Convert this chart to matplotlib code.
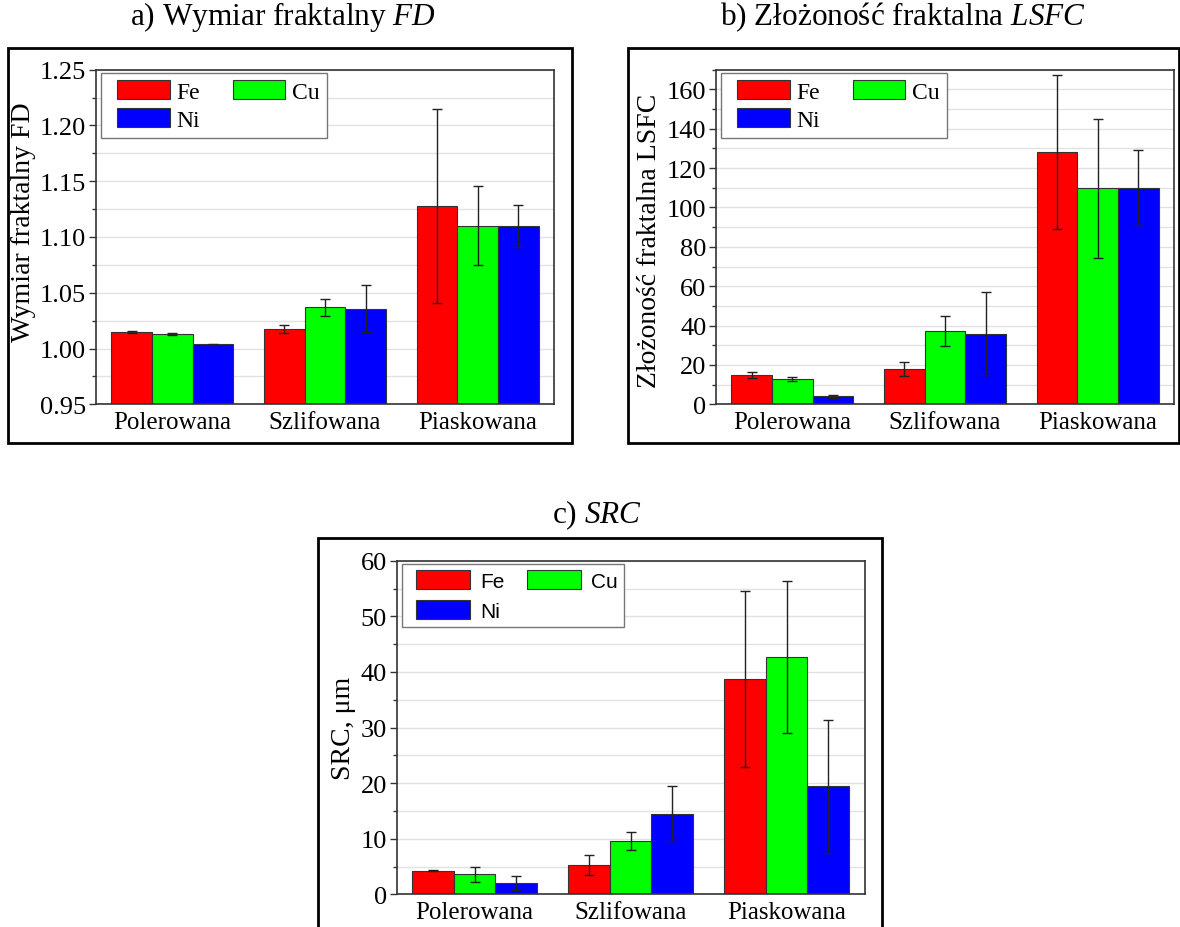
import matplotlib
matplotlib.use("Agg")
import matplotlib.pyplot as plt
import numpy as np
from matplotlib.patches import Rectangle, Patch
from matplotlib.ticker import MultipleLocator
from matplotlib.legend_handler import HandlerPatch

# ---------------- data ----------------
categories = ["Polerowana", "Szlifowana", "Piaskowana"]
series = ["Fe", "Cu", "Ni"]

fd_fe = [1.015, 1.0175, 1.128]
fd_cu = [1.0127, 1.0372, 1.110]
fd_ni = [1.0040, 1.0357, 1.110]
fd_fe_err = [0.001, 0.0035, 0.087]
fd_cu_err = [0.001, 0.0076, 0.0355]
fd_ni_err = [0.0005, 0.021, 0.019]

lsfc_fe = [14.9, 17.9, 128.2]
lsfc_cu = [12.9, 37.1, 109.7]
lsfc_ni = [4.1, 35.9, 110.1]
lsfc_fe_err = [1.5, 3.5, 38.9]
lsfc_cu_err = [1.0, 7.6, 35.4]
lsfc_ni_err = [0.8, 21.2, 19.2]

src_fe = [4.26, 5.3, 38.7]
src_cu = [3.6, 9.65, 42.7]
src_ni = [2.04, 14.5, 19.4]
src_fe_err = [0.1, 1.75, 15.8]
src_cu_err = [1.3, 1.6, 13.6]
src_ni_err = [1.26, 5.0, 12.0]

colors = ["#ff0000", "#00ff00", "#0000ff"]

# ---------------- style ----------------
plt.rcParams["font.family"] = ["Liberation Serif", "DejaVu Serif"]
plt.rcParams["mathtext.fontset"] = "custom"
plt.rcParams["mathtext.rm"] = "Liberation Serif"
plt.rcParams["mathtext.it"] = "Liberation Serif:italic"

W, H = 1180, 928
fig = plt.figure(figsize=(W / 100, H / 100), dpi=100)


def ax_rect(left, top, right, bottom):
    return [left / W, 1 - bottom / H, (right - left) / W, (bottom - top) / H]


def frame(left, top, right, bottom):
    fig.patches.append(Rectangle((left / W, 1 - bottom / H), (right - left) / W,
                                 (bottom - top) / H, transform=fig.transFigure,
                                 fill=False, edgecolor="black", linewidth=2.0))


def make_handler(offset_px):
    def patch_func(legend, orig_handle, xdescent, ydescent, width, height, fontsize):
        off = offset_px * 72.0 / 100.0
        return Rectangle((-xdescent + off, -ydescent), width - off, height)
    return HandlerPatch(patch_func=patch_func)


def panel(rect, vals, errs, ylim, major, minor, ylabel, legend_font, leg_cfg,
          ylabel_y=0.5):
    ax = fig.add_axes(rect)
    x = np.arange(1, len(categories) + 1)
    w = 0.8 / 3
    handles = []
    for i, (v, e) in enumerate(zip(vals, errs)):
        ax.bar(x + (i - 1) * w, v, width=w, color=colors[i], edgecolor="#333333",
               linewidth=0.8, zorder=2)
        ax.errorbar(x + (i - 1) * w, v, yerr=e, fmt="none", ecolor="#222222",
                    elinewidth=1.0, capsize=3.5, capthick=1.0, zorder=3)
        handles.append(Patch(facecolor=colors[i], edgecolor="#333333", linewidth=0.8,
                             label=series[i]))
    ax.set_xlim(0.5, 3.5)
    ax.set_ylim(*ylim)
    ax.set_xticks(x)
    ax.set_xticklabels(categories, fontsize=18)
    ax.tick_params(axis="x", length=0, pad=5)
    ax.yaxis.set_major_locator(MultipleLocator(major))
    ax.yaxis.set_minor_locator(MultipleLocator(minor))
    ax.tick_params(axis="y", which="major", length=5, width=1, labelsize=19,
                   color="#333333", pad=2)
    ax.tick_params(axis="y", which="minor", length=3, width=1, color="#333333")
    ax.grid(axis="y", which="both", color="#e2e2e2", linewidth=1.0, zorder=0)
    ax.set_axisbelow(True)
    for s in ax.spines.values():
        s.set_color("#333333")
        s.set_linewidth(1.2)
    ax.set_ylabel(ylabel, fontsize=20, labelpad=3)
    ax.yaxis.label.set_y(ylabel_y)
    order = [handles[0], handles[2], handles[1]]
    hmap = {h: make_handler(leg_cfg["offset"]) for h in order}
    leg = ax.legend(handles=order, labels=[h.get_label() for h in order], ncol=2,
                    loc="upper left", bbox_to_anchor=(0.011, 0.99),
                    prop=legend_font, handler_map=hmap,
                    handlelength=leg_cfg["hl"], handleheight=leg_cfg["hh"],
                    columnspacing=leg_cfg["cs"], borderpad=leg_cfg["bp"],
                    labelspacing=leg_cfg["ls"], handletextpad=leg_cfg["htp"],
                    fancybox=False, framealpha=1, edgecolor="#777777",
                    borderaxespad=0)
    leg.get_frame().set_linewidth(1.0)
    return ax


serif_leg = {"family": "Liberation Serif", "size": 17}
sans_leg = {"family": "Liberation Sans", "size": 15}
serif_cfg = dict(offset=9, hl=2.6, hh=0.85, cs=1.0, bp=0.3, ls=0.23, htp=0.3)
sans_cfg = dict(offset=8, hl=2.95, hh=0.98, cs=0.72, bp=0.3, ls=0.46, htp=0.5)

# panel a
frame(8, 49, 572, 444)
panel(ax_rect(96, 70.7, 554, 405.3), [fd_fe, fd_cu, fd_ni],
      [fd_fe_err, fd_cu_err, fd_ni_err], (0.95, 1.25), 0.05, 0.025,
      "Wymiar fraktalny FD", serif_leg, serif_cfg, ylabel_y=0.546)
fig.text(283 / W, 1 - 25 / H, "a) Wymiar fraktalny $FD$", ha="center",
         va="baseline", fontsize=22.5)

# panel b
frame(628, 49, 1179, 444)
panel(ax_rect(716, 70.7, 1174, 405.3), [lsfc_fe, lsfc_cu, lsfc_ni],
      [lsfc_fe_err, lsfc_cu_err, lsfc_ni_err], (0, 170), 20, 10,
      "Złożoność fraktalna LSFC", serif_leg, serif_cfg, ylabel_y=0.49)
fig.text(903 / W, 1 - 25 / H, "b) Złożoność fraktalna $LSFC$", ha="center",
         va="baseline", fontsize=22.5)

# panel c
frame(318, 539, 882, 940)
panel(ax_rect(396.7, 561.7, 864.5, 895.3), [src_fe, src_cu, src_ni],
      [src_fe_err, src_cu_err, src_ni_err], (0, 60), 10, 5,
      "SRC, μm", sans_leg, sans_cfg)
fig.text(597 / W, 1 - 523 / H, "c) $SRC$", ha="center", va="baseline", fontsize=22.5)

fig.savefig("out.png", dpi=100)
